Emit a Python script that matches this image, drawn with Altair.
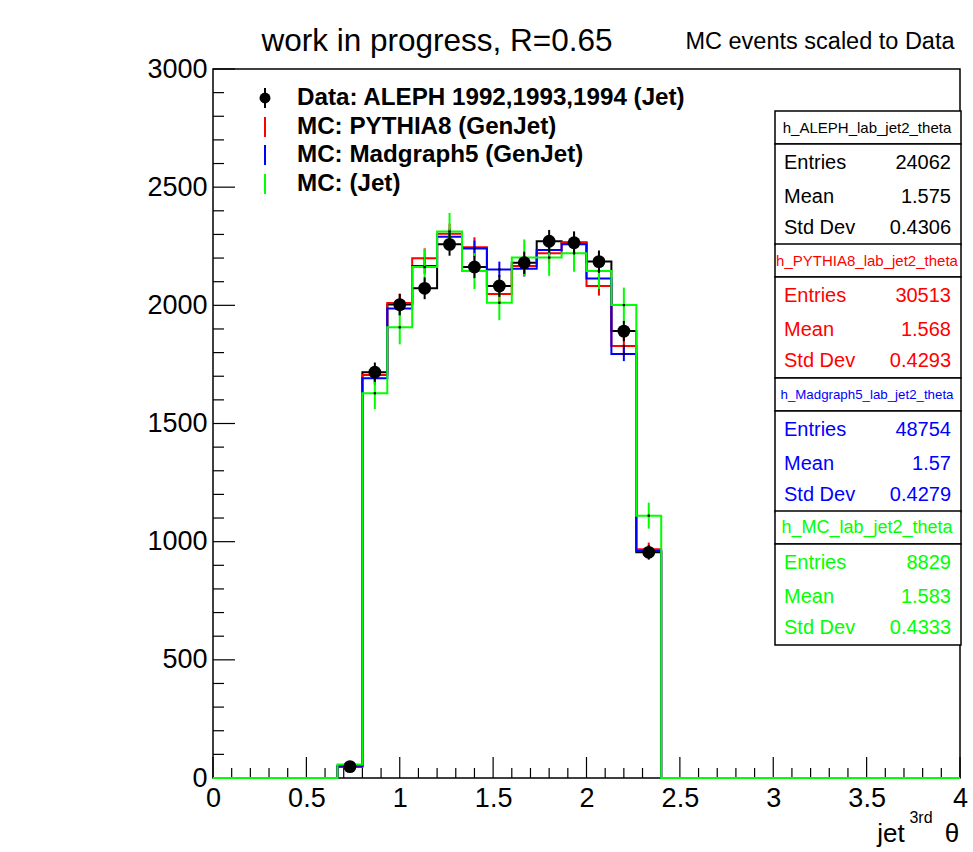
import numpy as np
import pandas as pd
import altair as alt

# ---- histogram contents: 30 bins of jet theta between 0 and 4 ----
data_counts = [0, 0, 0, 0, 0, 48, 1717, 2003, 2072, 2258, 2162, 2082, 2180,
               2271, 2265, 2185, 1891, 955] + [0] * 12
data_errors = [0, 0, 0, 0, 0, 7, 41, 45, 46, 48, 47, 46, 47,
               48, 48, 47, 43, 31] + [0] * 12
pythia_counts = [0, 0, 0, 0, 0, 50, 1705, 2010, 2199, 2303, 2246, 2048, 2166,
                 2220, 2267, 2082, 1828, 968] + [0] * 12
pythia_errors = [0, 0, 0, 0, 0, 6, 37, 40, 42, 43, 42, 40, 41,
                 42, 42, 41, 38, 28] + [0] * 12
madgraph_counts = [0, 0, 0, 0, 0, 52, 1691, 1987, 2166, 2290, 2241, 2152, 2155,
                   2234, 2258, 2114, 1794, 960] + [0] * 12
madgraph_errors = [0, 0, 0, 0, 0, 5, 29, 31, 33, 34, 33, 33, 33,
                   33, 33, 32, 30, 22] + [0] * 12
mc_counts = [0, 0, 0, 0, 0, 57, 1628, 1907, 2162, 2312, 2145, 2011, 2202,
             2202, 2220, 2145, 2001, 1110] + [0] * 12
mc_errors = [0, 0, 0, 0, 0, 12, 67, 72, 77, 79, 76, 74, 77,
             77, 78, 76, 74, 55] + [0] * 12

legend_labels = ["Data: ALEPH 1992,1993,1994 (Jet)", "MC: PYTHIA8 (GenJet)",
                 "MC: Madgraph5 (GenJet)", "MC: (Jet)"]

stat_names = ["h_ALEPH_lab_jet2_theta", "h_PYTHIA8_lab_jet2_theta",
              "h_Madgraph5_lab_jet2_theta", "h_MC_lab_jet2_theta"]
stat_entries = ["24062", "30513", "48754", "8829"]
stat_means = ["1.575", "1.568", "1.57", "1.583"]
stat_stddevs = ["0.4306", "0.4293", "0.4279", "0.4333"]

x_major = [0, 0.5, 1, 1.5, 2, 2.5, 3, 3.5, 4]
y_major = [0, 500, 1000, 1500, 2000, 2500, 3000]

# ---- layout ----
FONT = "Liberation Sans"
LEFT, TOP, W, H = 213, 69, 747, 709
BLACK, RED, BLUE, GREEN = "#000000", "#ff0000", "#0000ff", "#00ff00"

xscale = alt.Scale(domain=[0, 4], nice=False, zero=False)
yscale = alt.Scale(domain=[0, 3000], nice=False)
xaxis = alt.Axis(values=x_major, format="~g", title=None, ticks=False, domain=False,
                 grid=False, labelPadding=7, labelFontSize=27, labelFont=FONT,
                 labelColor="black", labelFlush=False)
yaxis = alt.Axis(values=y_major, format="d", title=None, ticks=False, domain=False,
                 grid=False, labelPadding=6, labelFontSize=27, labelFont=FONT,
                 labelColor="black", labelFlush=False)

edges = np.linspace(0.0, 4.0, 31)
centers = (edges[:-1] + edges[1:]) / 2


def step_line(counts, color):
    df = pd.DataFrame({"x": edges, "y": list(counts) + [counts[-1]]})
    return alt.Chart(df).mark_line(interpolate="step-after", color=color,
                                   strokeWidth=2).encode(
        x=alt.X("x:Q", scale=xscale, axis=xaxis),
        y=alt.Y("y:Q", scale=yscale, axis=yaxis))


def error_bars(counts, errors, color):
    df = pd.DataFrame({"c": centers, "v": counts, "e": errors})
    df = df[df["v"] > 0].copy()
    df["lo"] = df["v"] - df["e"]
    df["hi"] = df["v"] + df["e"]
    bars = alt.Chart(df).mark_rule(color=color, strokeWidth=2).encode(
        x=alt.X("c:Q", scale=xscale, axis=xaxis),
        y=alt.Y("lo:Q", scale=yscale, axis=yaxis), y2="hi:Q")
    dots = alt.Chart(df).mark_square(size=5, color=BLACK, opacity=1).encode(
        x=alt.X("c:Q", scale=xscale, axis=xaxis),
        y=alt.Y("v:Q", scale=yscale, axis=yaxis))
    return bars + dots


def text(label, x, y, size, color=BLACK, align="left", weight="normal"):
    return alt.Chart(pd.DataFrame({"t": [label]})).mark_text(
        align=align, baseline="middle", font=FONT, fontSize=size,
        fontWeight=weight, color=color).encode(
        x=alt.value(x - LEFT), y=alt.value(y - TOP), text="t:N")


def box(x0, y0, x1, y1):
    return alt.Chart(pd.DataFrame({"k": [0]})).mark_rect(
        fill="white", stroke=BLACK, strokeWidth=1.5).encode(
        x=alt.value(x0 - LEFT), x2=alt.value(x1 - LEFT),
        y=alt.value(y0 - TOP), y2=alt.value(y1 - TOP))


def vbar(x, y0, y1, color, width=2):
    return alt.Chart(pd.DataFrame({"k": [0]})).mark_rule(
        color=color, strokeWidth=width).encode(
        x=alt.value(x - LEFT), y=alt.value(y0 - TOP), y2=alt.value(y1 - TOP))


# ---- inward-pointing ticks ----
x_minor = [round(v, 1) for v in np.arange(0, 4.01, 0.1) if round(v * 10) % 5 != 0]
y_minor = [v for v in range(0, 3001, 100) if v % 500 != 0]


def x_ticks(values, length):
    return alt.Chart(pd.DataFrame({"v": values})).mark_rule(
        color=BLACK, strokeWidth=1.2).encode(
        x=alt.X("v:Q", scale=xscale, axis=xaxis),
        y=alt.value(H), y2=alt.value(H - length))


def y_ticks(values, length):
    return alt.Chart(pd.DataFrame({"v": values})).mark_rule(
        color=BLACK, strokeWidth=1.2).encode(
        y=alt.Y("v:Q", scale=yscale, axis=yaxis),
        x=alt.value(0), x2=alt.value(length))


ticks = x_ticks(x_major, 21) + x_ticks(x_minor, 10) + y_ticks(y_major, 22) + y_ticks(y_minor, 11)

# ---- histograms ----
hists = (step_line(data_counts, BLACK) + step_line(pythia_counts, RED)
         + step_line(madgraph_counts, BLUE) + step_line(mc_counts, GREEN))
mc_errs = (error_bars(pythia_counts, pythia_errors, RED)
           + error_bars(madgraph_counts, madgraph_errors, BLUE)
           + error_bars(mc_counts, mc_errors, GREEN))

data_df = pd.DataFrame({"c": centers, "v": data_counts, "e": data_errors})
data_df = data_df[data_df["v"] > 0].copy()
data_df["lo"] = data_df["v"] - data_df["e"]
data_df["hi"] = data_df["v"] + data_df["e"]
data_bars = alt.Chart(data_df).mark_rule(color=BLACK, strokeWidth=2).encode(
    x=alt.X("c:Q", scale=xscale, axis=xaxis),
    y=alt.Y("lo:Q", scale=yscale, axis=yaxis), y2="hi:Q")
data_pts = alt.Chart(data_df).mark_circle(size=165, color=BLACK, opacity=1).encode(
    x=alt.X("c:Q", scale=xscale, axis=xaxis),
    y=alt.Y("v:Q", scale=yscale, axis=yaxis))

# ---- legend ----
legend_rows = [98, 127, 155, 184]
legend_colors = [BLACK, RED, BLUE, GREEN]
legend = None
for label, yrow, col in zip(legend_labels, legend_rows, legend_colors):
    layer = vbar(265, yrow - 10, yrow + 10, col) + text(label, 297, yrow, 24.2, weight="bold")
    legend = layer if legend is None else legend + layer
legend_dot = alt.Chart(pd.DataFrame({"k": [0]})).mark_circle(
    size=120, color=BLACK, opacity=1).encode(x=alt.value(265 - LEFT), y=alt.value(98 - TOP))
legend = legend + legend_dot

# ---- statistics boxes ----
stat_colors = [BLACK, RED, BLUE, GREEN]
header_sizes = [15, 15, 13.3, 18]
block_tops = [111, 244, 378, 511]
stats = None
for name, ent, mean, std, col, hs, top in zip(stat_names, stat_entries, stat_means,
                                              stat_stddevs, stat_colors, header_sizes,
                                              block_tops):
    layer = (box(775, top, 961, top + 33) + box(775, top + 33, 961, top + 134)
             + text(name, 867, top + 17, hs, color=col, align="center")
             + text("Entries", 784, top + 52, 20, color=col)
             + text(ent, 951, top + 52, 20, color=col, align="right")
             + text("Mean", 784, top + 86, 20, color=col)
             + text(mean, 951, top + 86, 20, color=col, align="right")
             + text("Std Dev", 784, top + 117, 20, color=col)
             + text(std, 951, top + 117, 20, color=col, align="right"))
    stats = layer if stats is None else stats + layer

# ---- titles ----
titles = (text("work in progress, R=0.65", 437, 42, 31.5, align="center")
          + text("MC events scaled to Data", 820, 42, 23.5, align="center")
          + text("jet", 891, 834, 26, align="center")
          + text("3rd", 921, 818, 16, align="center")
          + text("\u03b8", 952, 834, 26, align="center"))

chart = alt.layer(ticks, hists, mc_errs, data_bars, data_pts, legend, stats, titles).properties(
    width=W, height=H,
    autosize=alt.AutoSizeParams(type="none"),
    padding={"left": LEFT, "top": TOP, "right": 973 - LEFT - W, "bottom": 852 - TOP - H},
    background="white",
).configure_view(stroke=BLACK, strokeWidth=1.5)

chart.save("out.html", embed_options={"renderer": "svg", "actions": False})
